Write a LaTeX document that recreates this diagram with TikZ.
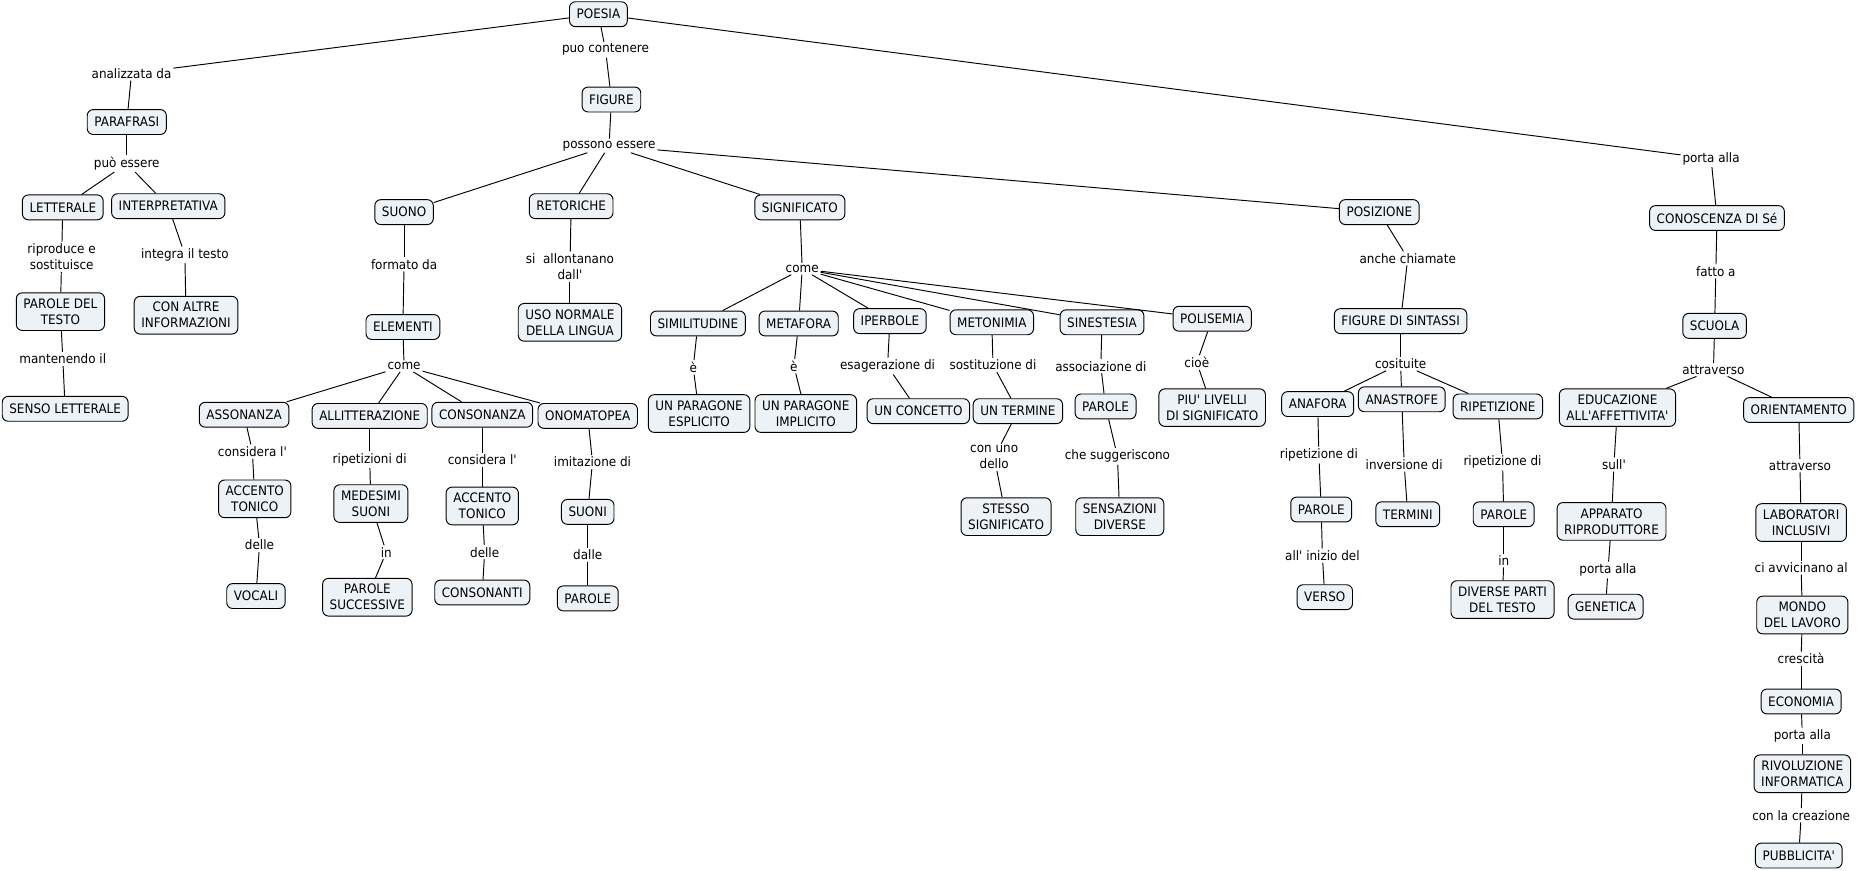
\documentclass[tikz,border=0pt]{standalone}
\usepackage{fontspec}
\setmainfont{DejaVu Sans}[FakeStretch=0.92,Ligatures=TeXOff]
\usepackage{tikz}
\usetikzlibrary{positioning}
\definecolor{cmapfill}{RGB}{236,242,245}
\tikzset{concept/.style={rectangle,draw,fill=cmapfill,rounded corners=5pt,align=center,minimum height=21pt,inner xsep=6pt,inner ysep=5pt,line width=0.8pt,font=\fontsize{11}{13.5}\selectfont},
         link/.style={inner sep=1.5pt,align=center,font=\fontsize{11}{13.5}\selectfont},
         line/.style={line width=0.8pt}}

\begin{document}
\begin{tikzpicture}[x=1pt,y=-1pt]
    \useasboundingbox (0,0) rectangle (1568,735);
    % Root
    \node (poesia) at (505,12) [concept]{POESIA};
    \node (analizzata) at (111,62) [link]{analizzata da};
    \node (puo) at (511,42) [link]{puo contenere};
    \node (portaalla1) at (1444,134) [link]{porta alla};
    \node (figure) at (516,84) [concept]{FIGURE};
    \node (possono) at (514,123) [link]{possono essere};
    % Parafrasi
    \node (parafrasi) at (107,103) [concept]{PARAFRASI};
    \node (puoessere) at (107,138) [link]{può essere};
    \node (letterale) at (53,175) [concept]{LETTERALE};
    \node (interpretativa) at (142,174) [concept]{INTERPRETATIVA};
    \node (riproduce) at (52,217) [link]{riproduce e\\sostituisce};
    \node (integra) at (156,215) [link]{integra il testo};
    \node (paroletesto) at (51,263) [concept]{PAROLE DEL\\TESTO};
    \node (conaltre) at (157,266) [concept]{CON ALTRE\\INFORMAZIONI};
    \node (mantenendo) at (53,303) [link]{mantenendo il};
    \node (senso) at (55,345) [concept]{SENSO LETTERALE};
    % Suono
    \node (suono) at (341,179) [concept]{SUONO};
    \node (formato) at (341,223) [link]{formato da};
    \node (elementi) at (340,276) [concept]{ELEMENTI};
    \node (come1) at (341,309) [link]{come};
    \node (assonanza) at (206,350) [concept]{ASSONANZA};
    \node (allitterazione) at (312,351) [concept]{ALLITTERAZIONE};
    \node (consonanza) at (407,350) [concept]{CONSONANZA};
    \node (onomatopea) at (496,351) [concept]{ONOMATOPEA};
    \node (considera1) at (213,381) [link]{considera l'};
    \node (accento1) at (215,421) [concept]{ACCENTO\\TONICO};
    \node (delle1) at (219,460) [link]{delle};
    \node (vocali) at (216,503) [concept]{VOCALI};
    \node (ripetizioni) at (312,388) [link]{ripetizioni di};
    \node (medesimi) at (313,425) [concept]{MEDESIMI\\SUONI};
    \node (in1) at (326,466) [link]{in};
    \node (parolesucc) at (310,504) [concept]{PAROLE\\SUCCESSIVE};
    \node (considera2) at (407,388) [link]{considera l'};
    \node (accento2) at (407,427) [concept]{ACCENTO\\TONICO};
    \node (delle2) at (409,466) [link]{delle};
    \node (consonanti) at (407,500) [concept]{CONSONANTI};
    \node (imitazione) at (500,390) [link]{imitazione di};
    \node (suoni) at (496,432) [concept]{SUONI};
    \node (dalle) at (496,468) [link]{dalle};
    \node (parole1) at (496,505) [concept]{PAROLE};
    % Retoriche
    \node (retoriche) at (482,174) [concept]{RETORICHE};
    \node (allontanano) at (481,225) [link]{si~ allontanano\\dall'};
    \node (uso) at (481,272) [concept]{USO NORMALE\\DELLA LINGUA};
    % Significato
    \node (significato) at (675,175) [concept]{SIGNIFICATO};
    \node (come2) at (677,227) [link]{come};
    \node (similitudine) at (589,273) [concept]{SIMILITUDINE};
    \node (metafora) at (674,273) [concept]{METAFORA};
    \node (iperbole) at (751,271) [concept]{IPERBOLE};
    \node (metonimia) at (837,272) [concept]{METONIMIA};
    \node (sinestesia) at (930,272) [concept]{SINESTESIA};
    \node (polisemia) at (1023,269) [concept]{POLISEMIA};
    \node (e1) at (585,310) [link]{è};
    \node (esplicito) at (590,349) [concept]{UN PARAGONE\\ESPLICITO};
    \node (e2) at (670,309) [link]{è};
    \node (implicito) at (680,349) [concept]{UN PARAGONE\\IMPLICITO};
    \node (esagerazione) at (749,309) [link]{esagerazione di};
    \node (concetto) at (775,347) [concept]{UN CONCETTO};
    \node (sostituzione) at (838,308) [link]{sostituzione di};
    \node (termine) at (859,347) [concept]{UN TERMINE};
    \node (conuno) at (839,386) [link]{con uno\\dello};
    \node (stesso) at (849,436) [concept]{STESSO\\SIGNIFICATO};
    \node (associazione) at (929,309) [link]{associazione di};
    \node (parole2) at (933,343) [concept]{PAROLE};
    \node (suggeriscono) at (943,385) [link]{che suggeriscono};
    \node (sensazioni) at (945,436) [concept]{SENSAZIONI\\DIVERSE};
    \node (cioe) at (1010,306) [link]{cioè};
    \node (livelli) at (1023,344) [concept]{PIU' LIVELLI\\DI SIGNIFICATO};
    % Posizione
    \node (posizione) at (1164,179) [concept]{POSIZIONE};
    \node (anche) at (1188,218) [link]{anche chiamate};
    \node (sintassi) at (1182,271) [concept]{FIGURE DI SINTASSI};
    \node (cosituite) at (1182,307) [link]{cosituite};
    \node (anafora) at (1112,341) [concept]{ANAFORA};
    \node (anastrofe) at (1183,337) [concept]{ANASTROFE};
    \node (ripetizione) at (1264,343) [concept]{RIPETIZIONE};
    \node (ripdi1) at (1113,384) [link]{ripetizione di};
    \node (parole3) at (1115,430) [concept]{PAROLE};
    \node (inizio) at (1116,469) [link]{all' inizio del};
    \node (verso) at (1118,504) [concept]{VERSO};
    \node (inversione) at (1185,392) [link]{inversione di};
    \node (termini) at (1188,434) [concept]{TERMINI};
    \node (ripdi2) at (1268,390) [link]{ripetizione di};
    \node (parole4) at (1269,434) [concept]{PAROLE};
    \node (in2) at (1269,473) [link]{in};
    \node (diverse) at (1268,506) [concept]{DIVERSE PARTI\\DEL TESTO};
    % Conoscenza di se
    \node (conoscenza) at (1449,184) [concept]{CONOSCENZA DI Sé};
    \node (fatto) at (1448,229) [link]{fatto a};
    \node (scuola) at (1447,275) [concept]{SCUOLA};
    \node (attraverso1) at (1446,312) [link]{attraverso};
    \node (educazione) at (1365,344) [concept]{EDUCAZIONE\\ALL'AFFETTIVITA'};
    \node (orientamento) at (1518,346) [concept]{ORIENTAMENTO};
    \node (sull) at (1362,392) [link]{sull'};
    \node (apparato) at (1360,440) [concept]{APPARATO\\RIPRODUTTORE};
    \node (portaalla2) at (1357,481) [link]{porta alla};
    \node (genetica) at (1355,512) [concept]{GENETICA};
    \node (attraverso2) at (1519,393) [link]{attraverso};
    \node (laboratori) at (1520,441) [concept]{LABORATORI\\INCLUSIVI};
    \node (avvicinano) at (1520,479) [link]{ci avvicinano al};
    \node (mondo) at (1521,519) [concept]{MONDO\\DEL LAVORO};
    \node (crescita) at (1520,556) [link]{crescità};
    \node (economia) at (1520,592) [concept]{ECONOMIA};
    \node (portaalla3) at (1521,621) [link]{porta alla};
    \node (rivoluzione) at (1521,653) [concept]{RIVOLUZIONE\\INFORMATICA};
    \node (creazione) at (1520,688) [link]{con la creazione};
    \node (pubblicita) at (1518,722) [concept]{PUBBLICITA'};
    % Links
    \foreach \a/\b in {poesia/analizzata,analizzata/parafrasi,poesia/puo,puo/figure,poesia/portaalla1,portaalla1/conoscenza,
                       figure/possono,possono/suono,possono/retoriche,possono/significato,possono/posizione,
                       parafrasi/puoessere,puoessere/letterale,puoessere/interpretativa,letterale/riproduce,riproduce/paroletesto,
                       paroletesto/mantenendo,mantenendo/senso,interpretativa/integra,integra/conaltre}
        \draw[line] (\a) -- (\b);
    \foreach \a/\b in {suono/formato,formato/elementi,elementi/come1,come1/assonanza,come1/allitterazione,come1/consonanza,come1/onomatopea,
                       assonanza/considera1,considera1/accento1,accento1/delle1,delle1/vocali,
                       allitterazione/ripetizioni,ripetizioni/medesimi,medesimi/in1,in1/parolesucc,
                       consonanza/considera2,considera2/accento2,accento2/delle2,delle2/consonanti,
                       onomatopea/imitazione,imitazione/suoni,suoni/dalle,dalle/parole1,
                       retoriche/allontanano,allontanano/uso}
        \draw[line] (\a) -- (\b);
    \foreach \a/\b in {significato/come2,come2/similitudine,come2/metafora,come2/iperbole,come2/metonimia,come2/sinestesia,come2/polisemia,
                       similitudine/e1,e1/esplicito,metafora/e2,e2/implicito,iperbole/esagerazione,esagerazione/concetto,
                       metonimia/sostituzione,sostituzione/termine,termine/conuno,conuno/stesso,
                       sinestesia/associazione,associazione/parole2,parole2/suggeriscono,suggeriscono/sensazioni,
                       polisemia/cioe,cioe/livelli}
        \draw[line] (\a) -- (\b);
    \foreach \a/\b in {posizione/anche,anche/sintassi,sintassi/cosituite,cosituite/anafora,cosituite/anastrofe,cosituite/ripetizione,
                       anafora/ripdi1,ripdi1/parole3,parole3/inizio,inizio/verso,anastrofe/inversione,inversione/termini,
                       ripetizione/ripdi2,ripdi2/parole4,parole4/in2,in2/diverse,
                       conoscenza/fatto,fatto/scuola,scuola/attraverso1,attraverso1/educazione,attraverso1/orientamento,
                       educazione/sull,sull/apparato,apparato/portaalla2,portaalla2/genetica,
                       orientamento/attraverso2,attraverso2/laboratori,laboratori/avvicinano,avvicinano/mondo,mondo/crescita,
                       crescita/economia,economia/portaalla3,portaalla3/rivoluzione,rivoluzione/creazione,creazione/pubblicita}
        \draw[line] (\a) -- (\b);
\end{tikzpicture}
\end{document}
